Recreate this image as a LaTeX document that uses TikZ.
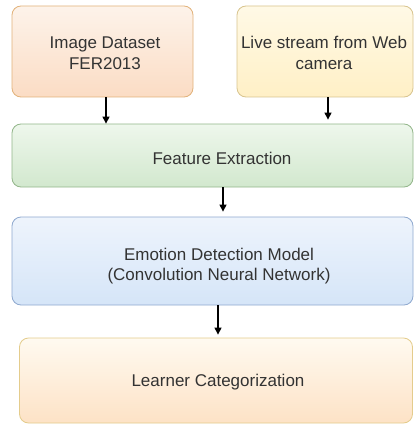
\documentclass[tikz,border=0pt]{standalone}
\usepackage{fontspec}
\setmainfont{Liberation Sans}
\usetikzlibrary{arrows.meta}
\definecolor{txt}{HTML}{333333}
\definecolor{oTop}{HTML}{FDF3EA}\definecolor{oBot}{HTML}{FBDCC4}\definecolor{oLine}{HTML}{E2B27A}
\definecolor{yTop}{HTML}{FFF9E6}\definecolor{yBot}{HTML}{FFF0C6}\definecolor{yLine}{HTML}{D8C48E}
\definecolor{gTop}{HTML}{EEF7EC}\definecolor{gBot}{HTML}{D2E8CE}\definecolor{gLine}{HTML}{93B68A}
\definecolor{bTop}{HTML}{EEF4FC}\definecolor{bBot}{HTML}{D5E5F8}\definecolor{bLine}{HTML}{8FA9CF}
\definecolor{lTop}{HTML}{FFFAF0}\definecolor{lBot}{HTML}{FDE2C6}\definecolor{lLine}{HTML}{E4CC8C}
\tikzset{
  box/.style={rounded corners=9pt, line width=0.8pt, inner sep=0pt},
  lbl/.style={align=center, font=\fontsize{17}{20.5}\selectfont, text=txt, inner sep=0pt},
  arr/.style={-{Triangle[width=7pt,length=7pt]}, line width=1.1pt, black},
}
\begin{document}
\begin{tikzpicture}[x=1pt,y=-1pt]
\useasboundingbox (0,0) rectangle (414,425);
\fill[white] (0,0) rectangle (414,425);
\node[box, draw=oLine, top color=oTop, bottom color=oBot, minimum width=181pt, minimum height=91pt] (ds) at (102.5,51.5) {};
\node[lbl] (dst) at (105,53) {Image Dataset\\FER2013};
\node[box, draw=yLine, top color=yTop, bottom color=yBot, minimum width=176pt, minimum height=91pt] (ls) at (325,51.5) {};
\node[lbl] (lst) at (324,53) {Live stream from Web\\camera};
\node[box, draw=gLine, top color=gTop, bottom color=gBot, minimum width=401pt, minimum height=63pt] (fe) at (212.5,155.5) {};
\node[lbl] (fet) at (222,158) {Feature Extraction};
\node[box, draw=bLine, top color=bTop, bottom color=bBot, minimum width=401pt, minimum height=88pt] (em) at (212.5,261) {};
\node[lbl] (emt) at (219,266) {Emotion Detection Model\\(Convolution Neural Network)};
\node[box, draw=lLine, top color=lTop, bottom color=lBot, minimum width=393pt, minimum height=85pt] (lc) at (216,380.5) {};
\node[lbl] (lct) at (218,382) {Learner Categorization};
\draw[arr] (ds.south -| 106,0) -- (fe.north -| 106,0);
\draw[arr] (ls.south -| 328,0) -- ([yshift=4pt]fe.north -| 328,0);
\draw[arr] (fe.south -| 223,0) -- ([yshift=5pt]em.north -| 223,0);
\draw[arr] (em.south -| 218,0) -- ([yshift=3pt]lc.north -| 218,0);
\end{tikzpicture}
\end{document}
